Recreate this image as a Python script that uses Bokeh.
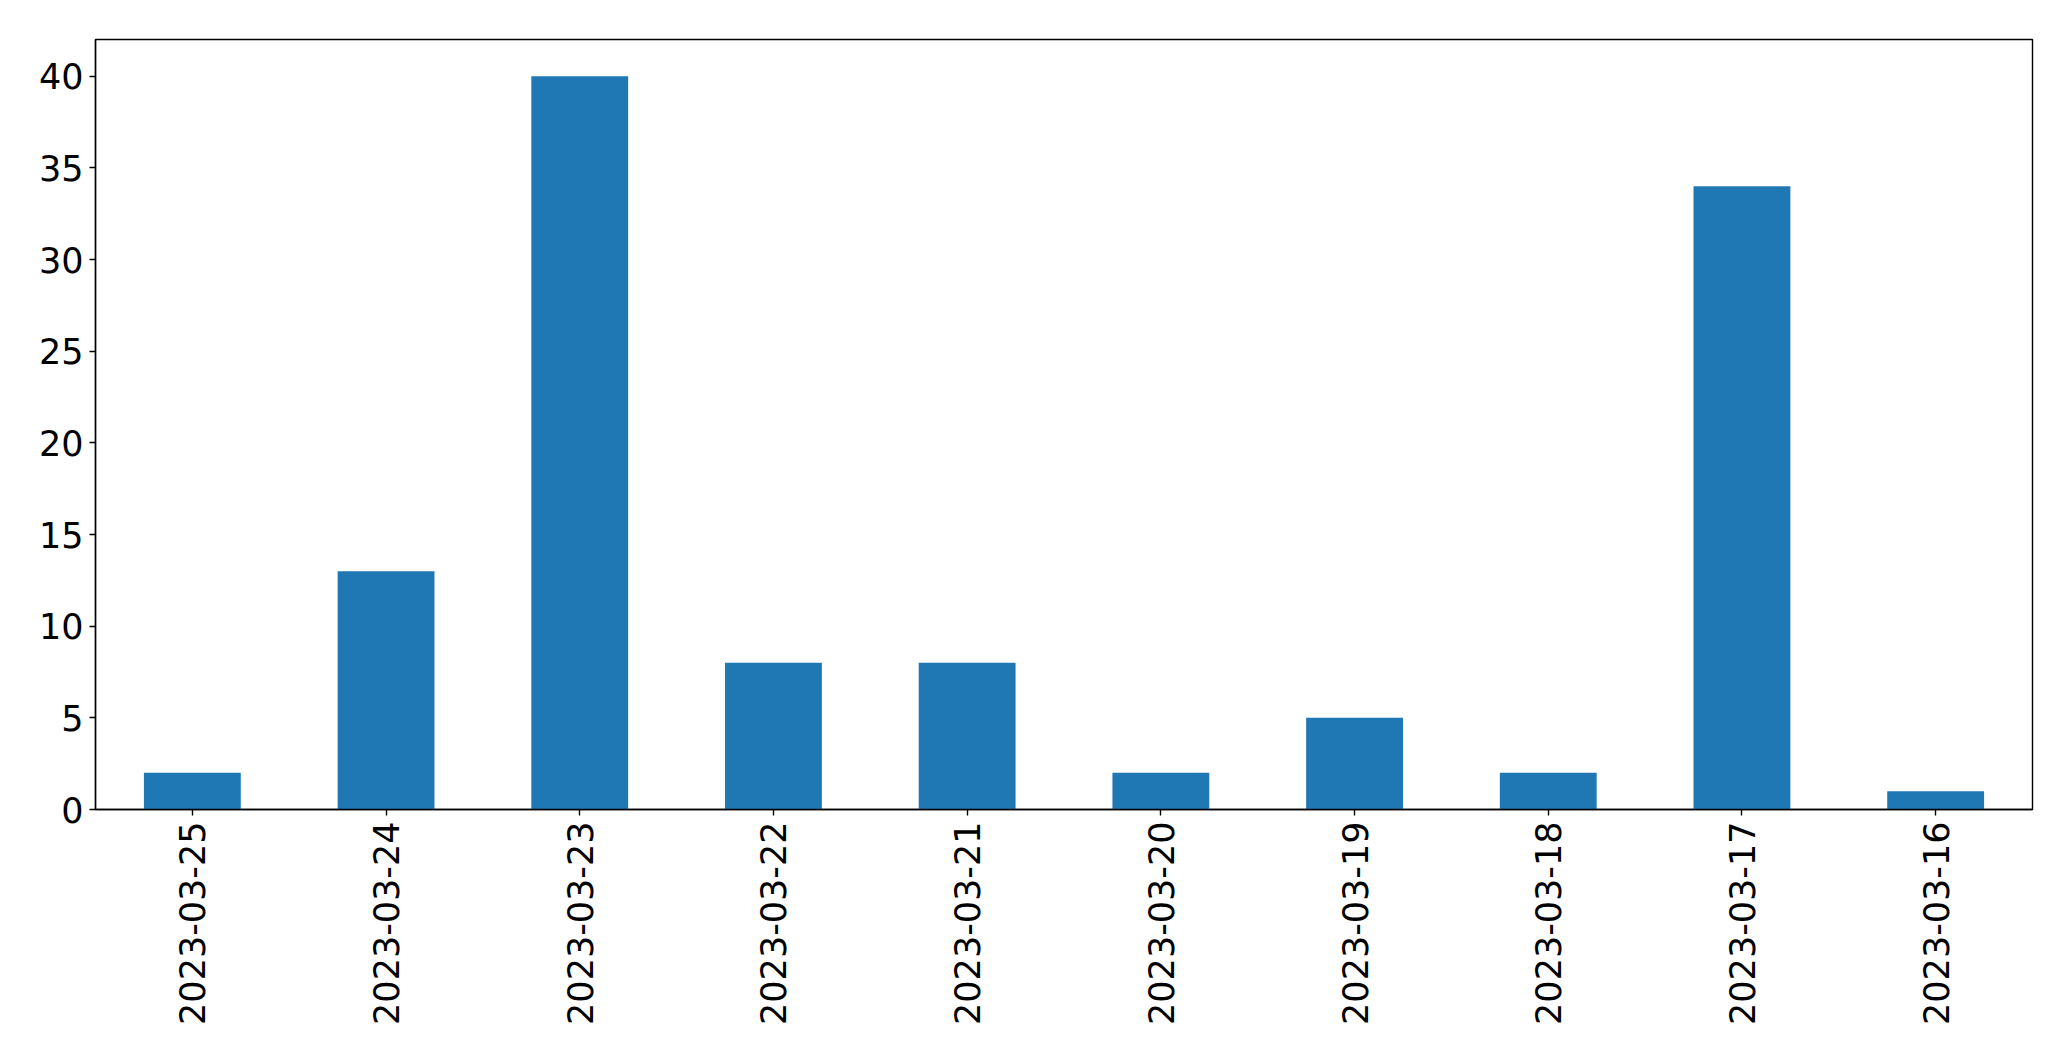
import math
from bokeh.plotting import figure
from bokeh.models import FactorRange, Range1d, ColumnDataSource, FixedTicker
from bokeh.embed import file_html
from bokeh.resources import INLINE

dates = ["2023-03-25", "2023-03-24", "2023-03-23", "2023-03-22", "2023-03-21",
         "2023-03-20", "2023-03-19", "2023-03-18", "2023-03-17", "2023-03-16"]
counts = [2, 13, 40, 8, 8, 2, 5, 2, 34, 1]
y_ticks = [0, 5, 10, 15, 20, 25, 30, 35, 40]

src = ColumnDataSource(dict(x=dates, top=counts))

p = figure(x_range=FactorRange(*dates), y_range=Range1d(0, 42),
           frame_width=1937, frame_height=770,
           min_border_left=95, min_border_top=39, min_border_right=30, min_border_bottom=230,
           output_backend="svg", toolbar_location=None, tools="")

p.vbar(x="x", top="top", width=0.5, source=src, color="#1f77b4", line_color=None)

p.xgrid.visible = False
p.ygrid.visible = False
p.outline_line_color = "black"
p.outline_line_width = 1.4
p.outline_line_alpha = 1.0

p.yaxis.ticker = FixedTicker(ticks=y_ticks)
p.yaxis.minor_tick_line_color = None

for ax in (p.xaxis[0], p.yaxis[0]):
    ax.axis_line_color = "black"
    ax.axis_line_width = 1.4
    ax.major_tick_line_color = "black"
    ax.major_tick_line_width = 1.4
    ax.major_tick_out = 6
    ax.major_tick_in = 0
    ax.major_label_text_font = "DejaVu Sans"
    ax.major_label_text_font_size = "35px"
    ax.major_label_text_color = "black"
    ax.major_label_standoff = 6

p.xaxis.major_label_orientation = math.pi / 2
p.xaxis.group_text_font_size = "0px"

open("out.html", "w").write(file_html(p, INLINE))
